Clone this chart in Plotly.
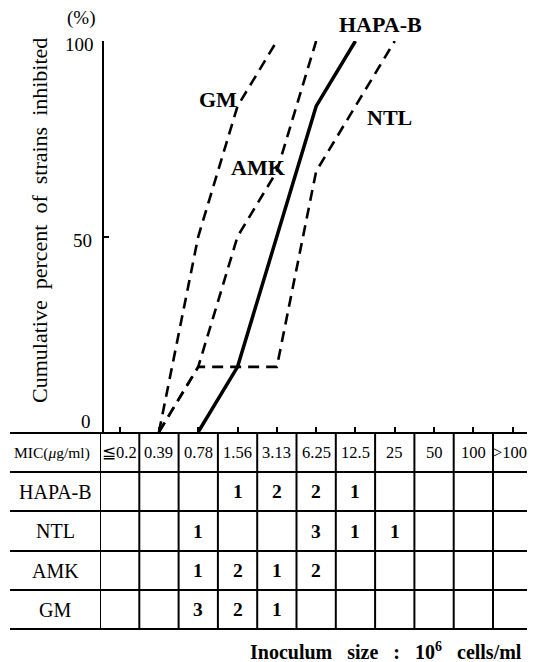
import numpy as np
import plotly.graph_objects as go

W, H = 539, 662

# MIC classes (µg/ml) and number of strains inhibited at each class
mic_labels = ["≦0.2", "0.39", "0.78", "1.56", "3.13", "6.25", "12.5", "25", "50", "100", ">100"]
drugs = ["HAPA-B", "NTL", "AMK", "GM"]
hapa_b = [0, 0, 0, 1, 2, 2, 1, 0, 0, 0, 0]
ntl = [0, 0, 1, 0, 0, 3, 1, 1, 0, 0, 0]
amk = [0, 0, 1, 2, 1, 2, 0, 0, 0, 0, 0]
gm = [0, 0, 3, 2, 1, 0, 0, 0, 0, 0, 0]
y_ticks = [0, 50, 100]

counts = {"HAPA-B": hapa_b, "NTL": ntl, "AMK": amk, "GM": gm}

SERIF = "Liberation Serif, Times New Roman, serif"
INK = "black"


def px(x):
    return x / W


def py(y):
    return 1 - y / H


def cumulative(c):
    c = np.asarray(c, float)
    pct = np.cumsum(c) / c.sum() * 100
    nz = np.nonzero(c)[0]
    idx = np.arange(nz[0] - 1, nz[-1] + 1)
    return idx, pct[idx]


def label(text, x, y, size, xref="paper", **kw):
    return dict(text=text, xref=xref, yref="paper", x=x, y=y, showarrow=False,
                xanchor=kw.pop("xanchor", "center"), yanchor="middle",
                font=dict(family=SERIF, size=size, color=INK), **kw)


# layout geometry (pixels)
x_left, x_right = 100, 527          # table data area
col_w = 39.3
x_max = -0.5 + (x_right - x_left) / col_w
y0_pix, y100_pix = 432, 41
row_edges = [433, 472, 511, 551, 590, 629]

fig = go.Figure()

styles = {
    "HAPA-B": dict(width=3.5, dash="solid"),
    "NTL": dict(width=2.6, dash="11px,7px"),
    "AMK": dict(width=2.6, dash="11px,7px"),
    "GM": dict(width=2.6, dash="11px,7px"),
}
for name in ["GM", "AMK", "NTL", "HAPA-B"]:
    xs, ys = cumulative(counts[name])
    fig.add_trace(go.Scatter(
        x=xs, y=ys, mode="lines", name=name,
        line=dict(color=INK, **styles[name]),
        showlegend=False, hoverinfo="skip", cliponaxis=False,
    ))

shapes = []
annotations = []

# table horizontal rules
for ye in row_edges:
    shapes.append(dict(type="line", xref="paper", yref="paper",
                       x0=px(10), x1=px(x_right), y0=py(ye), y1=py(ye),
                       line=dict(color=INK, width=2)))
# table vertical rules on column boundaries
for i in range(len(mic_labels)):
    shapes.append(dict(type="line", xref="x", yref="paper",
                       x0=i - 0.5, x1=i - 0.5, y0=py(row_edges[0]), y1=py(row_edges[-1]),
                       line=dict(color=INK, width=2)))

row_centers = [(row_edges[k] + row_edges[k + 1]) / 2 for k in range(len(row_edges) - 1)]

# header row
annotations.append(label("MIC(<i>μ</i>g/ml)", px(52), py(row_centers[0]), 15.5))
for i, lab in enumerate(mic_labels):
    xc = i if i < len(mic_labels) - 1 else (i - 0.5 + x_max) / 2
    annotations.append(label(lab, xc, py(row_centers[0]), 16.5, xref="x"))

# drug rows
for r, name in enumerate(drugs):
    yc = py(row_centers[r + 1])
    annotations.append(label(name, px(55), yc, 20))
    for i, v in enumerate(counts[name]):
        if v:
            annotations.append(label(f"<b>{v}</b>", i, yc, 19.5, xref="x"))

# curve labels
for text, (xp, yp) in {"GM": (218, 100), "AMK": (258, 167),
                       "HAPA-B": (380, 24), "NTL": (389, 118)}.items():
    annotations.append(label(f"<b>{text}</b>", px(xp), py(yp), 22))

# y tick labels
for v, (xp, yp) in zip(y_ticks, [(86, 421), (82, 240), (79, 44)]):
    annotations.append(label(str(v), px(xp), py(yp), 19))

annotations.append(label("(%)", px(81), py(18), 19))
annotations.append(label("Cumulative&nbsp; percent&nbsp; of&nbsp; strains&nbsp; inhibited",
                         px(40), py(221), 22, textangle=-90))
annotations.append(label(
    "<b>Inoculum&nbsp;&nbsp; size&nbsp;&nbsp; :&nbsp;&nbsp; 10<sup>6</sup>&nbsp;&nbsp; cells/ml</b>",
    px(524), py(651), 20, xanchor="right"))

fig.update_layout(
    width=W, height=H, margin=dict(l=0, r=0, t=0, b=0),
    paper_bgcolor="white", plot_bgcolor="white",
    shapes=shapes, annotations=annotations,
    xaxis=dict(domain=[px(x_left), px(x_right)], range=[-0.5, x_max],
               tickvals=list(range(len(mic_labels))), ticks="inside", ticklen=5,
               tickwidth=1.5, tickcolor=INK, showticklabels=False,
               showgrid=False, zeroline=False, showline=False, fixedrange=True),
    yaxis=dict(domain=[py(y0_pix), py(y100_pix)], range=[0, 100],
               anchor="free", position=px(103),
               tickvals=y_ticks, ticks="inside", ticklen=5, tickwidth=1.5, tickcolor=INK,
               showticklabels=False, showgrid=False, zeroline=False,
               showline=True, linecolor=INK, linewidth=2, fixedrange=True),
)

fig.write_html("out.html")
